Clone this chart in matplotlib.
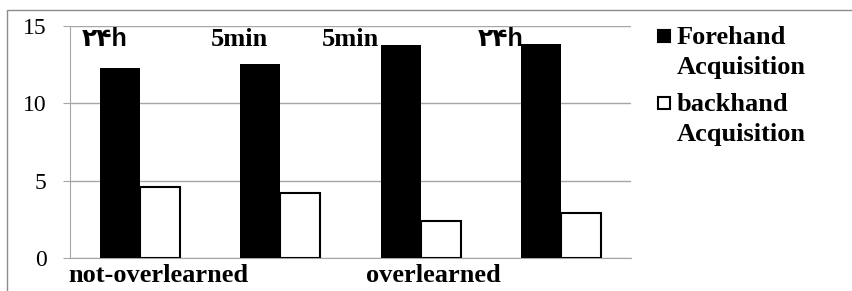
import numpy as np
import matplotlib.pyplot as plt
from matplotlib.patches import Rectangle

# data
groups = ["not-overlearned", "", "overlearned", ""]
forehand = [12.26, 12.56, 13.75, 13.86]
backhand = [4.61, 4.20, 2.39, 2.93]
top_labels = ["\u06f2\u06f4h", "5min", "5min", "\u06f2\u06f4h"]
series_names = ["Forehand\nAcquisition", "backhand\nAcquisition"]

serif = ["Liberation Serif", "DejaVu Serif"]
sans = ["Liberation Sans", "DejaVu Sans"]
grey = "#a6a6a6"

fig = plt.figure(figsize=(8.53, 2.91), dpi=100)
ax = fig.add_axes([70 / 853, 1 - 258 / 291, 561 / 853, 232 / 291])

x = np.arange(len(forehand))
w = 0.286
ax.bar(x - w / 2, forehand, w, color="black", zorder=3)
ax.bar(x + w / 2, backhand, w, color="white", edgecolor="black",
       linewidth=1.5, zorder=3)

ax.set_xlim(-0.5, 3.5)
ax.set_ylim(0, 15)
ax.set_yticks([0, 5, 10, 15])
ax.set_xticks([])
ax.yaxis.grid(True, color=grey, linewidth=1)
ax.set_axisbelow(True)
for s in ["top", "right"]:
    ax.spines[s].set_visible(False)
ax.spines["left"].set_color(grey)
ax.spines["bottom"].set_color(grey)
ax.tick_params(axis="y", direction="out", length=5, color=grey, pad=12,
               labelsize=17)
for t in ax.get_yticklabels():
    t.set_family(serif)

# labels over the bars
lbl_x = [-0.25, 0.71, 1.5, 2.57]
for xi, s in zip(lbl_x, top_labels):
    if "min" in s:
        ax.text(xi, 14.15, s, ha="center", va="center", fontsize=19,
                fontweight="bold", family=serif)
    else:
        ax.text(xi, 14.15, s, ha="center", va="center", fontsize=18,
                fontweight="bold", family=sans)

# group labels under the axis
cat_x = [0.13, None, 2.09, None]
for xi, s in zip(cat_x, groups):
    if xi is None:
        continue
    ax.text(xi, -1.15, s, ha="center", va="center", fontsize=19,
            fontweight="bold", family=serif, clip_on=False)

# legend drawn by hand (square next to first line)
legend_y = [36, 103]
fills = ["black", "white"]
for yy, name, fc in zip(legend_y, series_names, fills):
    fig.add_artist(Rectangle((658 / 853, 1 - (yy + 6) / 291), 12 / 853, 12 / 291,
                             transform=fig.transFigure, facecolor=fc,
                             edgecolor="black", linewidth=1.5))
    fig.text(677 / 853, 1 - (yy - 10) / 291, name, ha="left", va="top",
             fontsize=19, fontweight="bold", family=serif, linespacing=1.38)

# outer chart frame
fig.add_artist(Rectangle((7 / 853, -0.2), 1.2, 1.2 - 10 / 291,
                         transform=fig.transFigure, fill=False,
                         edgecolor="#8c8c8c", linewidth=1))

fig.savefig("out.png", dpi=100)
